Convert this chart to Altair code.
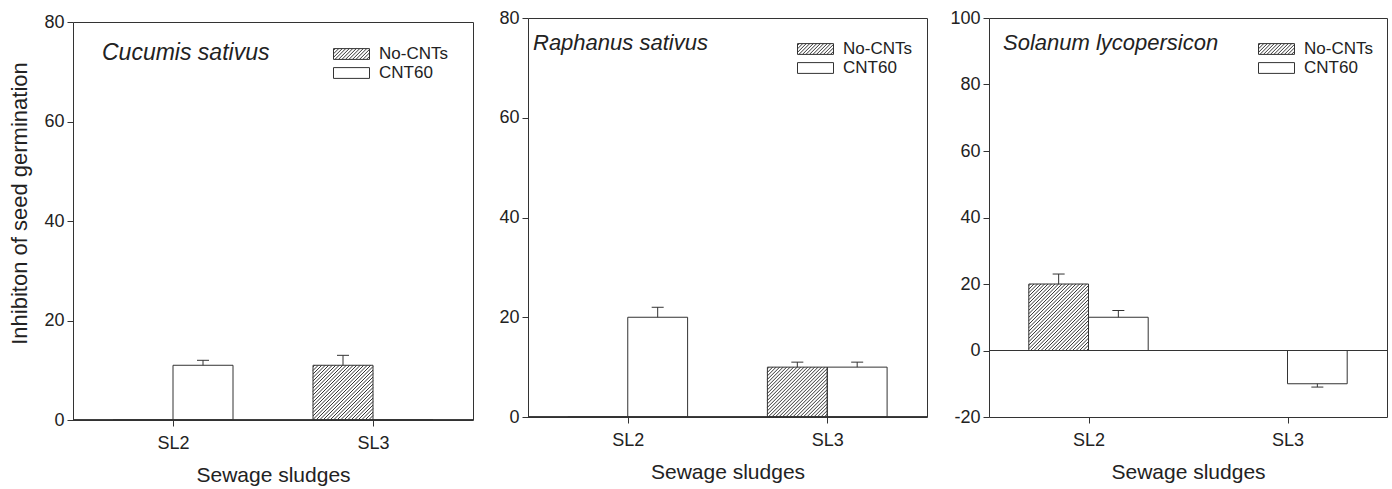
import json
import altair as alt
import pandas as pd

# ---------------- data ----------------
SLUDGES = ["SL2", "SL3"]
SERIES = ["No-CNTs", "CNT60"]
SPECIES = ["Cucumis sativus", "Raphanus sativus", "Solanum lycopersicon"]

# one inner list per species, values in SLUDGES order
NO_CNTS = [[0, 11], [0, 10], [20, 0]]
CNT60 = [[11, 0], [20, 10], [10, -10]]
ERR_NO_CNTS = [[0, 2], [0, 1], [3, 0]]
ERR_CNT60 = [[1, 0], [2, 1], [2, 1]]

Y_DOMAINS = [[0, 80], [0, 80], [-20, 100]]
Y_STEP = 20

X_TITLE = "Sewage sludges"
Y_TITLE = "Inhibiton of seed germination"

# ---------------- layout / style ----------------
PANEL_W = [400, 399, 398]
PANEL_H = [398, 399, 399]
P1_SHIFT = 4
BAR_W = 0.3          # bar width in x-units (one sludge = 1 unit)
HATCH_PX = 3.5       # hatch spacing in pixels
INK = "#333333"
TEXT = "#222222"
FONT = "Liberation Sans"
LEGEND_POS = [(260, 24), (269, 23), (269, 23)]
TITLE_DX = [29, 5, 14]
TITLE_DY = [56, 50, 50]
TITLE_SIZE = [23, 22, 22]
SYM_W = 36
SYM_HALF_H = 0.3


def box_path(h=SYM_HALF_H):
    return f"M-1,-{h}H1V{h}H-1Z"


def hatch_path(h=SYM_HALF_H):
    step = HATCH_PX / (SYM_W / 2)
    p = box_path(h)
    c = -1 - h + step / 2
    while c < 1 + h:
        xa = max(-1.0, c - h)
        xb = min(1.0, c + h)
        if xb > xa:
            p += f"M{xa:.3f},{c - xa:.3f}L{xb:.3f},{c - xb:.3f}"
        c += step
    return p


def build_rows(k):
    rows = []
    groups = [(SERIES[0], NO_CNTS[k], ERR_NO_CNTS[k]), (SERIES[1], CNT60[k], ERR_CNT60[k])]
    for i, sl in enumerate(SLUDGES):
        center = i + 0.5
        for j, (s, vals, errs) in enumerate(groups):
            v = vals[i]
            e = errs[i]
            x0 = center - BAR_W + j * BAR_W
            x1 = x0 + BAR_W
            sign = 1 if v >= 0 else -1
            rows.append(dict(sludge=sl, series=s, value=v, base=0, x0=x0, x1=x1,
                             xc=(x0 + x1) / 2, err_end=v + sign * e,
                             has_err=bool(e > 0), hatched=(j == 0)))
    return pd.DataFrame(rows)


def hatch_rows(df, k):
    W, H = PANEL_W[k], PANEL_H[k]
    ymin, ymax = Y_DOMAINS[k]
    kx = W / float(len(SLUDGES))
    ky = H / float(ymax - ymin)
    segs = []
    for _, r in df[df.hatched & (df.value != 0)].iterrows():
        lo, hi = min(0, r.value), max(0, r.value)
        bw = (r.x1 - r.x0) * kx
        bh = (hi - lo) * ky
        c = -bh + HATCH_PX / 2
        while c < bw:
            pa = max(0.0, c)
            pb = min(bw, bh + c)
            if pb > pa:
                segs.append(dict(hx0=r.x0 + pa / kx, hx1=r.x0 + pb / kx,
                                 hy0=lo + (pa - c) / ky, hy1=lo + (pb - c) / ky))
            c += HATCH_PX
    return pd.DataFrame(segs)


def panel(k):
    W, H = PANEL_W[k], PANEL_H[k]
    ymin, ymax = Y_DOMAINS[k]
    df = build_rows(k)
    hd = hatch_rows(df, k)
    err = df[df.has_err]

    xs = alt.Scale(domain=[0, len(SLUDGES)], nice=False, zero=False)
    ys = alt.Scale(domain=[ymin, ymax], nice=False, zero=False)
    x_axis = alt.Axis(values=[i + 0.5 for i in range(len(SLUDGES))],
                      labelExpr=f"{json.dumps(SLUDGES)}[floor(datum.value)]",
                      title=X_TITLE, grid=False, domain=False)
    if k == 0:
        y_axis = alt.Axis(values=list(range(ymin, ymax + 1, Y_STEP)), title=Y_TITLE,
                          titleY=181, labelExpr="'' + datum.value",
                          grid=False, domain=False)
    else:
        y_axis = alt.Axis(values=list(range(ymin, ymax + 1, Y_STEP)), title=None,
                          labelExpr="'' + datum.value", grid=False, domain=False)

    def X(f):
        return alt.X(f"{f}:Q", scale=xs, axis=x_axis)

    def Y(f):
        return alt.Y(f"{f}:Q", scale=ys, axis=y_axis)

    base = alt.Chart(df)
    bars = base.mark_rect(fill="white", strokeWidth=0).encode(
        x=X("x0"), x2="x1", y=Y("value"), y2="base")
    hatch = alt.Chart(hd).mark_rule(color=INK, strokeWidth=1).encode(
        x=X("hx0"), x2="hx1", y=Y("hy0"), y2="hy1")
    outline = base.mark_rect(fillOpacity=0, stroke=INK, strokeWidth=1).encode(
        x=X("x0"), x2="x1", y=Y("value"), y2="base")
    zero = base.mark_rule(color=INK, strokeWidth=1).encode(
        y=alt.Y(datum=0, scale=ys, axis=y_axis))
    err_line = alt.Chart(err).mark_rule(color=INK, strokeWidth=1).encode(
        x=X("xc"), y=Y("value"), y2="err_end")
    err_cap = alt.Chart(err).mark_tick(orient="horizontal", size=12, thickness=1,
                                       color=INK, opacity=1).encode(
        x=X("xc"), y=Y("err_end"))
    lx, ly = LEGEND_POS[k]
    legend_pts = base.mark_point(opacity=0).encode(
        x=X("xc"), y=Y("value"),
        shape=alt.Shape("series:N",
                        scale=alt.Scale(domain=SERIES, range=[hatch_path(), box_path()]),
                        legend=alt.Legend(title=None, orient="none", legendX=lx, legendY=ly,
                                          symbolSize=SYM_W * SYM_W, symbolStrokeColor=INK,
                                          symbolFillColor="white", symbolStrokeWidth=1,
                                          symbolOpacity=1, labelFontSize=17, labelFont=FONT,
                                          labelColor=TEXT, labelOffset=9, clipHeight=16,
                                          rowPadding=2, padding=0)))

    return alt.layer(bars, hatch, outline, zero, err_line, err_cap, legend_pts).properties(
        width=W, height=H,
        title=alt.TitleParams(text=SPECIES[k], dx=TITLE_DX[k], dy=TITLE_DY[k],
                              fontSize=TITLE_SIZE[k]))


spacer = alt.Chart(pd.DataFrame({"v": [0]})).mark_point(opacity=0).encode(
    x=alt.X("v:Q", axis=None), y=alt.Y("v:Q", axis=None)
).properties(width=PANEL_W[0], height=P1_SHIFT,
             view=alt.ViewBackground(strokeOpacity=0, fillOpacity=0))

left = alt.vconcat(spacer, panel(0), spacing=0, bounds="flush").resolve_scale(
    shape="independent").resolve_legend(shape="independent")
inner = alt.hconcat(panel(1), panel(2), spacing=21).resolve_scale(
    shape="independent").resolve_legend(shape="independent")
chart = alt.hconcat(left, inner, spacing=24).resolve_scale(
    shape="independent").resolve_legend(shape="independent").properties(
    padding={"left": 8, "top": 8, "right": 2, "bottom": 2}
).configure(font=FONT).configure_view(stroke=INK, strokeWidth=1).configure_axis(
    labelFont=FONT, titleFont=FONT, labelFontSize=18, titleFontSize=21,
    titleFontWeight="normal", labelColor=TEXT, titleColor=TEXT,
    tickColor=INK, tickSize=6, tickWidth=1
).configure_axisX(labelPadding=8, titlePadding=12).configure_axisY(
    labelPadding=3, titlePadding=12, titleFontSize=22
).configure_title(font=FONT, fontSize=22, fontStyle="italic", fontWeight="normal",
                  color=TEXT, anchor="start", frame="group")

chart.save("out.html", embed_options={"renderer": "svg", "actions": False})
